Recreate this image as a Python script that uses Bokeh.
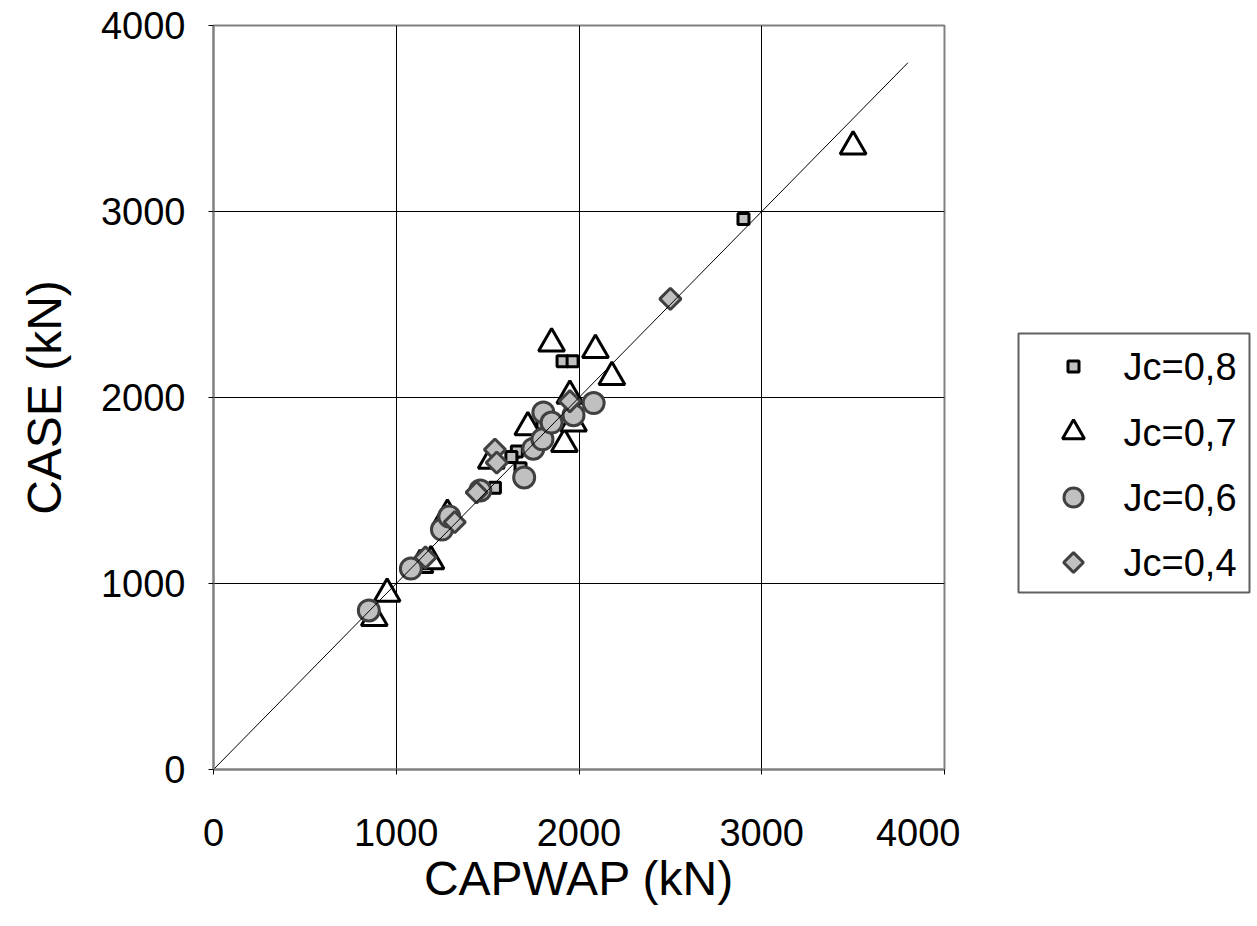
import math
from bokeh.plotting import figure
from bokeh.models import FixedTicker, Range1d
from bokeh.layouts import row
from bokeh.core.properties import value
from bokeh.embed import file_html
from bokeh.resources import INLINE

# Data (kN)
jc08_capwap = [2900, 1910, 1965, 1660, 1630, 1680, 1540, 1800]
jc08_case = [2960, 2195, 2195, 1710, 1680, 1620, 1515, 1860]

jc07_capwap = [3500, 1850, 2090, 2180, 1950, 1720, 1920, 1970, 1520, 1280, 1130, 1190, 950, 880]
jc07_case = [3350, 2290, 2255, 2110, 2010, 1840, 1750, 1860, 1660, 1370, 1100, 1120, 945, 815]

jc06_capwap = [850, 1080, 1250, 1290, 1460, 1700, 1750, 1800, 1805, 1850, 1970, 2080]
jc06_case = [855, 1080, 1290, 1360, 1500, 1570, 1725, 1775, 1920, 1865, 1905, 1970]

jc04_capwap = [2500, 1950, 1540, 1550, 1440, 1320, 1160]
jc04_case = [2530, 1980, 1720, 1650, 1490, 1330, 1140]

line_x = [0, 3800]
line_y = [0, 3800]

ticks = [0, 1000, 2000, 3000, 4000]
series_labels = ["Jc=0,8", "Jc=0,7", "Jc=0,6", "Jc=0,4"]

FONT = "Liberation Sans"

styles = [
    dict(marker="square", size=11, angle=0.0, fill_color="#c0c0c0", line_color="black", line_width=3),
    dict(marker="triangle", size=26, angle=0.0, fill_color="white", line_color="black", line_width=3),
    dict(marker="circle", size=21, angle=0.0, fill_color="#c0c0c0", line_color="#404040", line_width=3),
    dict(marker="square", size=15, angle=math.pi / 4, fill_color="#c0c0c0", line_color="#404040", line_width=3),
]
legend_styles = [
    dict(marker="square", size=11, angle=0.0, fill_color="#c0c0c0", line_color="black", line_width=3),
    dict(marker="triangle", size=22, angle=0.0, fill_color="white", line_color="black", line_width=3),
    dict(marker="circle", size=19, angle=0.0, fill_color="#c0c0c0", line_color="#404040", line_width=3),
    dict(marker="square", size=14, angle=math.pi / 4, fill_color="#c0c0c0", line_color="#404040", line_width=3),
]

p = figure(width=960, height=926, output_backend="svg", toolbar_location=None,
           x_range=Range1d(0, 4000), y_range=Range1d(0, 4000),
           min_border_left=213, min_border_right=16, min_border_top=25, min_border_bottom=157)

p.background_fill_color = "white"
p.border_fill_color = "white"
p.outline_line_color = "#808080"
p.outline_line_width = 2

for ax in (p.xaxis[0], p.yaxis[0]):
    ax.ticker = FixedTicker(ticks=ticks)
    ax.major_label_text_font = FONT
    ax.major_label_text_font_size = "38px"
    ax.major_label_text_color = "black"
    ax.axis_label_text_font = FONT
    ax.axis_label_text_font_size = "48px"
    ax.axis_label_text_font_style = "normal"
    ax.axis_label_text_color = "black"
    ax.axis_line_color = "#808080"
    ax.axis_line_width = 2
    ax.major_tick_out = 5
    ax.major_tick_in = 0
    ax.major_tick_line_color = "black"
    ax.minor_tick_line_color = None

p.xaxis.axis_label = "CAPWAP (kN)"
p.yaxis.axis_label = "CASE (kN)"
p.xaxis.major_label_standoff = 44
p.xaxis.axis_label_standoff = 3
p.yaxis.major_label_standoff = 23
p.yaxis.axis_label_standoff = 27

p.xgrid.ticker = FixedTicker(ticks=ticks)
p.ygrid.ticker = FixedTicker(ticks=ticks)
p.grid.grid_line_color = "black"
p.grid.grid_line_width = 1
p.grid.grid_line_alpha = 1

xs = [jc08_capwap, jc07_capwap, jc06_capwap, jc04_capwap]
ys = [jc08_case, jc07_case, jc06_case, jc04_case]
for x, y, st in zip(xs, ys, styles):
    p.scatter(x, y, **st)

p.line(line_x, line_y, line_color="black", line_width=1)

# Legend panel: same vertical borders as the main plot, coordinates in pixels
lg = figure(width=297, height=926, output_backend="svg", toolbar_location=None,
            x_range=Range1d(0, 297), y_range=Range1d(0, 744),
            min_border_left=0, min_border_right=0, min_border_top=25, min_border_bottom=157)
lg.axis.visible = False
lg.grid.visible = False
lg.outline_line_color = None
lg.background_fill_color = "white"
lg.border_fill_color = "white"

lg.quad(left=[58], right=[289], bottom=[177], top=[436],
        fill_color="white", line_color="#606060", line_width=2)
row_y = [403, 337, 272, 207]
for i, st in enumerate(legend_styles):
    lg.scatter([113], [row_y[i]], **st)
lg.text([163] * 4, row_y, text=series_labels, text_font=value(FONT),
        text_font_size=value("38px"), text_baseline="middle", text_align="left",
        text_color="black")

layout = row(p, lg)
open("out.html", "w").write(file_html(layout, INLINE))
